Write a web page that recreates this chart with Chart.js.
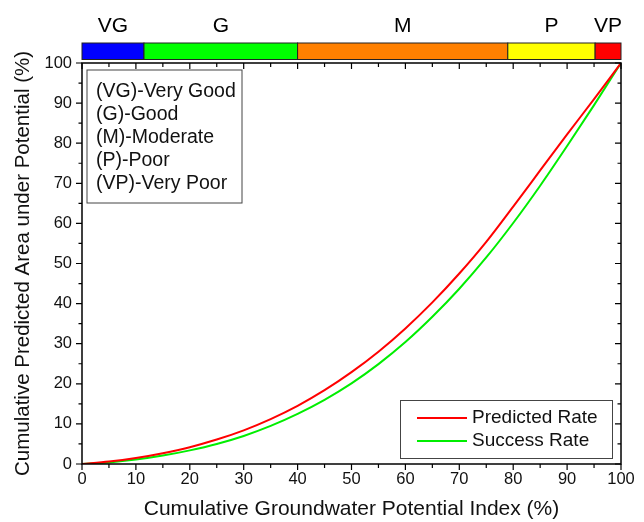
<!DOCTYPE html>
<html lang="en">
<head>
  <meta charset="UTF-8" />
  <title>Cumulative predicted area</title>
  <style>
    body { margin: 0; background: #fff; }
    #wrap { position: relative; width: 644px; height: 522px; }
  </style>
</head>
<body>
<div id="wrap"><canvas id="chart" width="644" height="522"></canvas></div>

<script src="https://cdn.jsdelivr.net/npm/chart.js@4.4.3"></script>
<script>
  const FONT = '"Liberation Sans", Arial, sans-serif';

  // x values (cumulative groundwater potential index, %)
  const indexPct = [0, 5, 10, 15, 20, 25, 30, 35, 40, 45, 50, 55, 60, 65, 70, 75, 80, 85, 90, 95, 100];
  const predictedRate = [0, 0.6, 1.5, 2.7, 4.2, 6.1, 8.4, 11.2, 14.5, 18.4, 22.9, 28.0, 33.8, 40.3, 47.5, 55.4, 64.2, 73.2, 82.2, 91.0, 100];
  const successRate = [0, 0.4, 1.1, 2.1, 3.4, 5.0, 7.0, 9.5, 12.5, 16.0, 20.1, 24.9, 30.4, 36.7, 43.7, 51.5, 60.1, 69.4, 79.3, 89.5, 100];

  // potential zones along the top bar
  const zoneNames = ['VG', 'G', 'M', 'P', 'VP'];
  const zoneEdges = [0, 11.5, 40, 79, 95.2, 100];
  const zoneColors = ['#0000ff', '#00ff00', '#ff8000', '#ffff00', '#ff0000'];
  const zoneNotes = ['(VG)-Very Good', '(G)-Good', '(M)-Moderate', '(P)-Poor', '(VP)-Very Poor'];

  const toPoints = ys => indexPct.map((x, i) => ({ x: x, y: ys[i] }));

  // frame, minor/major ticks, zone bar, note box and legend
  const decorations = {
    id: 'decorations',
    afterDraw(chart) {
      const ctx = chart.ctx;
      const a = chart.chartArea;
      const xs = chart.scales.x, ys = chart.scales.y;
      ctx.save();

      // frame
      ctx.strokeStyle = '#000';
      ctx.lineWidth = 1.5;
      ctx.strokeRect(a.left, a.top, a.right - a.left, a.bottom - a.top);

      // ticks
      ctx.lineWidth = 1.2;
      ctx.beginPath();
      for (let v = 0; v <= 100; v += 5) {
        const major = v % 10 === 0;
        const px = xs.getPixelForValue(v);
        const lx = major ? 6 : 4;
        ctx.moveTo(px, a.bottom); ctx.lineTo(px, a.bottom + lx);
        ctx.moveTo(px, a.top); ctx.lineTo(px, a.top + lx);
        const py = ys.getPixelForValue(v);
        const ly = major ? 6 : 3.5;
        ctx.moveTo(a.left, py); ctx.lineTo(a.left - ly, py);
        ctx.moveTo(a.right, py); ctx.lineTo(a.right - ly, py);
      }
      ctx.stroke();

      // zone bar
      const barTop = 43, barH = 16.5;
      ctx.font = '21px ' + FONT;
      ctx.textAlign = 'center';
      ctx.textBaseline = 'middle';
      zoneNames.forEach((name, i) => {
        const x0 = xs.getPixelForValue(zoneEdges[i]);
        const x1 = xs.getPixelForValue(zoneEdges[i + 1]);
        ctx.fillStyle = zoneColors[i];
        ctx.fillRect(x0, barTop, x1 - x0, barH);
        ctx.strokeStyle = '#222';
        ctx.lineWidth = 1;
        ctx.strokeRect(x0, barTop, x1 - x0, barH);
        ctx.fillStyle = '#000';
        ctx.fillText(name, (x0 + x1) / 2, 26);
      });

      // note box
      ctx.strokeStyle = '#444';
      ctx.lineWidth = 1;
      ctx.strokeRect(87, 70, 155, 133);
      ctx.font = '19.5px ' + FONT;
      ctx.textAlign = 'left';
      ctx.fillStyle = '#111';
      zoneNotes.forEach((t, i) => ctx.fillText(t, 96, 92 + i * 23));

      // legend box
      ctx.strokeRect(400.5, 400.5, 212, 58);
      ctx.font = '19px ' + FONT;
      chart.data.datasets.forEach((ds, i) => {
        const y = 418 + i * 23;
        ctx.strokeStyle = ds.borderColor;
        ctx.lineWidth = 2;
        ctx.beginPath();
        ctx.moveTo(417, y); ctx.lineTo(467, y);
        ctx.stroke();
        ctx.fillStyle = '#111';
        ctx.fillText(ds.label, 472, y);
      });

      ctx.restore();
    }
  };

  new Chart(document.getElementById('chart'), {
    type: 'line',
    data: {
      datasets: [{
        label: 'Predicted Rate',
        data: toPoints(predictedRate),
        borderColor: '#ff0000',
        borderWidth: 2,
        pointRadius: 0,
        cubicInterpolationMode: 'monotone'
      }, {
        label: 'Success Rate',
        data: toPoints(successRate),
        borderColor: '#00ee00',
        borderWidth: 2,
        pointRadius: 0,
        cubicInterpolationMode: 'monotone'
      }]
    },
    options: {
      responsive: false,
      animation: false,
      layout: { padding: { top: 63, right: 23, bottom: 0, left: 0 } },
      plugins: { legend: { display: false }, tooltip: { enabled: false } },
      scales: {
        x: {
          type: 'linear',
          min: 0, max: 100,
          afterFit: s => { s.height = 58; },
          ticks: { stepSize: 10, padding: 6, color: '#111', font: { family: FONT, size: 16.5 }, maxRotation: 0 },
          grid: { display: false, drawTicks: false },
          border: { display: false },
          title: {
            display: true,
            text: 'Cumulative Groundwater Potential Index (%)',
            color: '#111',
            font: { family: FONT, size: 21 },
            padding: { top: 0, bottom: 0 }
          }
        },
        y: {
          min: 0, max: 100,
          afterFit: s => { s.width = 82; },
          ticks: { stepSize: 10, padding: 10, color: '#111', font: { family: FONT, size: 16.5 } },
          grid: { display: false, drawTicks: false },
          border: { display: false },
          title: {
            display: true,
            text: 'Cumulative Predicted Area under Potential (%)',
            color: '#111',
            font: { family: FONT, size: 20.5 },
            padding: { top: 11, bottom: 0 }
          }
        }
      }
    },
    plugins: [decorations]
  });
</script>
</body>
</html>
